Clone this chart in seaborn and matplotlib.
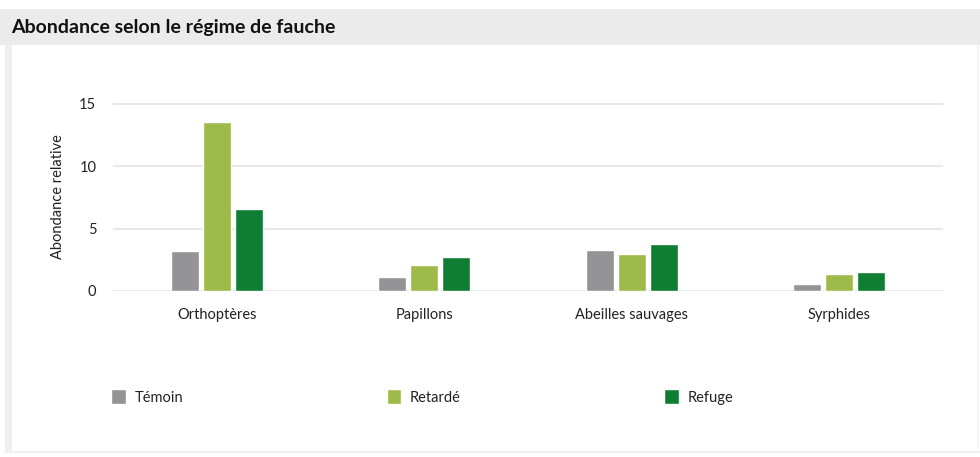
"""
Bar chart: relative abundance of insect groups by mowing regime.
"""
import numpy as np
import pandas as pd
import matplotlib.pyplot as plt
from matplotlib import patches
import seaborn as sns

# Data
groups = ['Orthoptères', 'Papillons', 'Abeilles sauvages', 'Syrphides']
regimes = ['Témoin', 'Retardé', 'Refuge']
temoin = [3.2, 1.1, 3.25, 0.55]
retarde = [13.5, 2.1, 2.95, 1.35]
refuge = [6.6, 2.7, 3.75, 1.5]
palette = ['#949496', '#9dba4b', '#0f7e33']

df = pd.DataFrame({
    'Groupe': groups * 3,
    'Régime': np.repeat(regimes, len(groups)),
    'Abondance': temoin + retarde + refuge,
})

sns.set_style('white')
plt.rcParams['font.family'] = ['Lato', 'DejaVu Sans']
text_col = '#222222'

fig = plt.figure(figsize=(9.8, 4.57), dpi=100)
W, H = 980, 457

# Panel decoration: grey title band, left strip, bottom line
def px_rect(x0, y0, x1, y1, color):
    fig.patches.append(patches.Rectangle(
        (x0 / W, 1 - y1 / H), (x1 - x0) / W, (y1 - y0) / H,
        transform=fig.transFigure, color=color, zorder=0, lw=0))

px_rect(0, 9, W, 45, '#ebebeb')
px_rect(5, 45, 12, 452, '#efefef')
px_rect(5, 451, W, 453, '#efefef')
px_rect(977, 45, 979, 452, '#f4f4f4')
fig.text(11 / W, 1 - 27 / H, 'Abondance selon le régime de fauche',
         fontsize=14, fontweight='bold', color='#111111', va='center', ha='left')

ax = fig.add_axes([113 / W, 1 - 291 / H, (943 - 113) / W, (291 - 103) / H])
sns.barplot(data=df, x='Groupe', y='Abondance', hue='Régime',
            hue_order=regimes, order=groups, palette=palette,
            width=0.46, gap=0.12, saturation=1, ax=ax, zorder=3)

ax.set_xlim(-0.5, 3.5)
ax.set_ylim(0, 15.05)
ax.set_yticks([0, 5, 10, 15])
ax.grid(axis='y', color='#e4e4e4', lw=1.2, zorder=0)
for s in ax.spines.values():
    s.set_visible(False)
ax.set_xticks(np.arange(-0.5, 4, 1), minor=True)
ax.tick_params(axis='x', which='major', length=0, pad=12, labelsize=10.5,
               colors=text_col)
ax.tick_params(axis='x', which='minor', length=8, direction='inout',
               color='#e0e0e0', width=1)
ax.tick_params(axis='y', length=0, pad=12, labelsize=10.5, colors=text_col)
ax.set_xlabel('')
ax.set_ylabel('Abondance relative', fontsize=10.5, color=text_col, labelpad=10)

handles, labels = ax.get_legend_handles_labels()
ax.legend_.remove()
fig.legend(handles, labels, loc='center left',
           bbox_to_anchor=(98 / W, 1 - 397 / H), ncol=3, frameon=False,
           handlelength=1.0, handleheight=1.2, handletextpad=0.6,
           columnspacing=13.95, fontsize=10.5, labelcolor=text_col)

fig.savefig('out.png', dpi=100, facecolor='white')
